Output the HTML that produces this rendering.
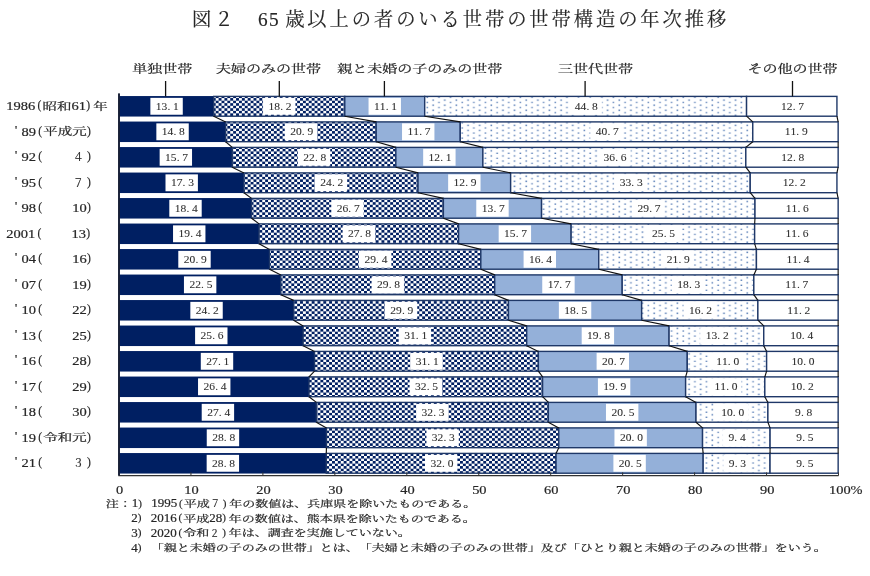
<!DOCTYPE html>
<html lang="ja"><head><meta charset="utf-8"><title>図２　65 歳以上の者のいる世帯の世帯構造の年次推移</title>
<style>
html,body{margin:0;padding:0;background:#fff}
body{width:870px;height:576px;overflow:hidden}
svg{display:block}
text{font-family:"Liberation Serif","Noto Serif CJK JP","Noto Serif CJK SC",serif;fill:#262626;font-weight:400;white-space:pre;text-spacing-trim:space-all;font-kerning:none;stroke:#262626;stroke-width:0.22px}
.n{stroke-width:0.2px}
.p{stroke-width:0.15px}
.v tspan{stroke-width:0.08px;fill:#303030}
.t{text-anchor:middle;stroke-width:0.15px}
.o{stroke:#1f3868;stroke-width:1.4}
.c{stroke:#111;stroke-width:1.15;fill:none}
.l{stroke:#111;stroke-width:1.3;fill:none}
.b{fill:#fff}
</style></head><body>
<svg width="870" height="576" viewBox="0 0 870 576">
<defs>
<pattern id="ck" patternUnits="userSpaceOnUse" width="5.8165" height="5.076" patternTransform="translate(0.486 1.687)"><rect width="5.8165" height="5.076" fill="#001f62"/><rect x="0" y="0" width="2.908" height="2.538" fill="#fff"/><rect x="2.908" y="2.538" width="2.909" height="2.538" fill="#fff"/></pattern>
<pattern id="dt" patternUnits="userSpaceOnUse" width="11.633" height="5.076" patternTransform="translate(0.486 1.687)"><rect width="11.633" height="5.076" fill="#fff"/><rect x="1.454" y="1.269" width="1.6" height="1.4" fill="#5b80b8"/><rect x="7.27" y="3.807" width="1.6" height="1.4" fill="#5b80b8"/></pattern>
</defs>
<rect width="870" height="576" fill="#fff"/>
<text class="t" x="201.7 223.9 246.1 262.75 273.85 281.55 294.8 317 339.2 361.4 383.6 405.8 428 450.2 472.4 494.6 516.8 539 561.2 583.4 605.6 627.8 650 672.2 694.4 716.6" y="26.4" font-size="19.3">図２　65 歳以上の者のいる世帯の世帯構造の年次推移</text>
<rect x="119.45" y="96.05" width="94.64" height="20.5" fill="#001f62"/>
<rect class="o" x="213.69" y="96.4" width="131.1" height="19.8" fill="url(#ck)"/>
<rect class="o" x="344.79" y="96.4" width="79.9" height="19.8" fill="#94b0d9"/>
<rect class="o" x="424.69" y="96.4" width="321.87" height="19.8" fill="url(#dt)"/>
<rect class="o" x="746.56" y="96.4" width="90.37" height="19.8" fill="#fff"/>
<rect x="119.45" y="121.55" width="106.6" height="20.5" fill="#001f62"/>
<rect class="o" x="225.65" y="121.9" width="150.56" height="19.8" fill="url(#ck)"/>
<rect class="o" x="376.2" y="121.9" width="84.05" height="19.8" fill="#94b0d9"/>
<rect class="o" x="460.26" y="121.9" width="292.51" height="19.8" fill="url(#dt)"/>
<rect class="o" x="752.77" y="121.9" width="85.38" height="19.8" fill="#fff"/>
<rect x="119.45" y="147.05" width="113.18" height="20.5" fill="#001f62"/>
<rect class="o" x="232.23" y="147.4" width="163.64" height="19.8" fill="url(#ck)"/>
<rect class="o" x="395.86" y="147.4" width="87.02" height="19.8" fill="#94b0d9"/>
<rect class="o" x="482.88" y="147.4" width="262.93" height="19.8" fill="url(#dt)"/>
<rect class="o" x="745.81" y="147.4" width="92.34" height="19.8" fill="#fff"/>
<rect x="119.45" y="172.55" width="124.89" height="20.5" fill="#001f62"/>
<rect class="o" x="243.94" y="172.9" width="174.08" height="19.8" fill="url(#ck)"/>
<rect class="o" x="418.03" y="172.9" width="92.62" height="19.8" fill="#94b0d9"/>
<rect class="o" x="510.64" y="172.9" width="239.59" height="19.8" fill="url(#dt)"/>
<rect class="o" x="750.23" y="172.9" width="86.7" height="19.8" fill="#fff"/>
<rect x="119.45" y="198.05" width="132.49" height="20.5" fill="#001f62"/>
<rect class="o" x="251.54" y="198.4" width="191.83" height="19.8" fill="url(#ck)"/>
<rect class="o" x="443.38" y="198.4" width="98.2" height="19.8" fill="#94b0d9"/>
<rect class="o" x="541.57" y="198.4" width="213.41" height="19.8" fill="url(#dt)"/>
<rect class="o" x="754.99" y="198.4" width="83.16" height="19.8" fill="#fff"/>
<rect x="119.45" y="223.55" width="139.99" height="20.5" fill="#001f62"/>
<rect class="o" x="259.04" y="223.9" width="199.57" height="19.8" fill="url(#ck)"/>
<rect class="o" x="458.6" y="223.9" width="112.54" height="19.8" fill="#94b0d9"/>
<rect class="o" x="571.14" y="223.9" width="183.5" height="19.8" fill="url(#dt)"/>
<rect class="o" x="754.64" y="223.9" width="83.51" height="19.8" fill="#fff"/>
<rect x="119.45" y="249.05" width="150.47" height="20.5" fill="#001f62"/>
<rect class="o" x="269.52" y="249.4" width="211.31" height="19.8" fill="url(#ck)"/>
<rect class="o" x="480.83" y="249.4" width="117.93" height="19.8" fill="#94b0d9"/>
<rect class="o" x="598.76" y="249.4" width="157.68" height="19.8" fill="url(#dt)"/>
<rect class="o" x="756.43" y="249.4" width="81.72" height="19.8" fill="#fff"/>
<rect x="119.45" y="274.55" width="161.79" height="20.5" fill="#001f62"/>
<rect class="o" x="280.84" y="274.9" width="213.85" height="19.8" fill="url(#ck)"/>
<rect class="o" x="494.69" y="274.9" width="127.52" height="19.8" fill="#94b0d9"/>
<rect class="o" x="622.21" y="274.9" width="131.62" height="19.8" fill="url(#dt)"/>
<rect class="o" x="753.83" y="274.9" width="84.32" height="19.8" fill="#fff"/>
<rect x="119.45" y="300.05" width="174.57" height="20.5" fill="#001f62"/>
<rect class="o" x="293.62" y="300.4" width="214.85" height="19.8" fill="url(#ck)"/>
<rect class="o" x="508.48" y="300.4" width="133.18" height="19.8" fill="#94b0d9"/>
<rect class="o" x="641.66" y="300.4" width="116.21" height="19.8" fill="url(#dt)"/>
<rect class="o" x="757.87" y="300.4" width="80.28" height="19.8" fill="#fff"/>
<rect x="119.45" y="325.55" width="184.08" height="20.5" fill="#001f62"/>
<rect class="o" x="303.13" y="325.9" width="223.56" height="19.8" fill="url(#ck)"/>
<rect class="o" x="526.69" y="325.9" width="142.39" height="19.8" fill="#94b0d9"/>
<rect class="o" x="669.09" y="325.9" width="94.66" height="19.8" fill="url(#dt)"/>
<rect class="o" x="763.75" y="325.9" width="74.4" height="19.8" fill="#fff"/>
<rect x="119.45" y="351.05" width="195.47" height="20.5" fill="#001f62"/>
<rect class="o" x="314.52" y="351.4" width="223.83" height="19.8" fill="url(#ck)"/>
<rect class="o" x="538.36" y="351.4" width="148.91" height="19.8" fill="#94b0d9"/>
<rect class="o" x="687.27" y="351.4" width="79.35" height="19.8" fill="url(#dt)"/>
<rect class="o" x="766.62" y="351.4" width="71.53" height="19.8" fill="#fff"/>
<rect x="119.45" y="376.55" width="189.96" height="20.5" fill="#001f62"/>
<rect class="o" x="309.01" y="376.9" width="233.58" height="19.8" fill="url(#ck)"/>
<rect class="o" x="542.6" y="376.9" width="143.03" height="19.8" fill="#94b0d9"/>
<rect class="o" x="685.63" y="376.9" width="79.19" height="19.8" fill="url(#dt)"/>
<rect class="o" x="764.82" y="376.9" width="73.33" height="19.8" fill="#fff"/>
<rect x="119.45" y="402.05" width="197.32" height="20.5" fill="#001f62"/>
<rect class="o" x="316.37" y="402.4" width="231.95" height="19.8" fill="url(#ck)"/>
<rect class="o" x="548.33" y="402.4" width="147.68" height="19.8" fill="#94b0d9"/>
<rect class="o" x="696.01" y="402.4" width="71.88" height="19.8" fill="url(#dt)"/>
<rect class="o" x="767.89" y="402.4" width="70.26" height="19.8" fill="#fff"/>
<rect x="119.45" y="427.55" width="207.41" height="20.5" fill="#001f62"/>
<rect class="o" x="326.46" y="427.9" width="232.32" height="19.8" fill="url(#ck)"/>
<rect class="o" x="558.78" y="427.9" width="143.77" height="19.8" fill="#94b0d9"/>
<rect class="o" x="702.55" y="427.9" width="67.53" height="19.8" fill="url(#dt)"/>
<rect class="o" x="770.08" y="427.9" width="68.07" height="19.8" fill="#fff"/>
<rect x="119.45" y="453.05" width="207.22" height="20.5" fill="#001f62"/>
<rect class="o" x="326.27" y="453.4" width="229.76" height="19.8" fill="url(#ck)"/>
<rect class="o" x="556.03" y="453.4" width="147.14" height="19.8" fill="#94b0d9"/>
<rect class="o" x="703.18" y="453.4" width="66.86" height="19.8" fill="url(#dt)"/>
<rect class="o" x="770.04" y="453.4" width="68.11" height="19.8" fill="#fff"/>
<line class="c" x1="213.69" y1="116.2" x2="225.65" y2="121.9"/>
<line class="c" x1="344.79" y1="116.2" x2="376.2" y2="121.9"/>
<line class="c" x1="424.69" y1="116.2" x2="460.26" y2="121.9"/>
<line class="c" x1="746.56" y1="116.2" x2="752.77" y2="121.9"/>
<line class="c" x1="836.93" y1="116.2" x2="838.15" y2="121.9"/>
<line class="c" x1="225.65" y1="141.7" x2="232.23" y2="147.4"/>
<line class="c" x1="376.2" y1="141.7" x2="395.86" y2="147.4"/>
<line class="c" x1="460.26" y1="141.7" x2="482.88" y2="147.4"/>
<line class="c" x1="752.77" y1="141.7" x2="745.81" y2="147.4"/>
<line class="c" x1="838.15" y1="141.7" x2="838.15" y2="147.4"/>
<line class="c" x1="232.23" y1="167.2" x2="243.94" y2="172.9"/>
<line class="c" x1="395.86" y1="167.2" x2="418.03" y2="172.9"/>
<line class="c" x1="482.88" y1="167.2" x2="510.64" y2="172.9"/>
<line class="c" x1="745.81" y1="167.2" x2="750.23" y2="172.9"/>
<line class="c" x1="838.15" y1="167.2" x2="836.93" y2="172.9"/>
<line class="c" x1="243.94" y1="192.7" x2="251.54" y2="198.4"/>
<line class="c" x1="418.03" y1="192.7" x2="443.38" y2="198.4"/>
<line class="c" x1="510.64" y1="192.7" x2="541.57" y2="198.4"/>
<line class="c" x1="750.23" y1="192.7" x2="754.99" y2="198.4"/>
<line class="c" x1="836.93" y1="192.7" x2="838.15" y2="198.4"/>
<line class="c" x1="251.54" y1="218.2" x2="259.04" y2="223.9"/>
<line class="c" x1="443.38" y1="218.2" x2="458.6" y2="223.9"/>
<line class="c" x1="541.57" y1="218.2" x2="571.14" y2="223.9"/>
<line class="c" x1="754.99" y1="218.2" x2="754.64" y2="223.9"/>
<line class="c" x1="838.15" y1="218.2" x2="838.15" y2="223.9"/>
<line class="c" x1="259.04" y1="243.7" x2="269.52" y2="249.4"/>
<line class="c" x1="458.6" y1="243.7" x2="480.83" y2="249.4"/>
<line class="c" x1="571.14" y1="243.7" x2="598.76" y2="249.4"/>
<line class="c" x1="754.64" y1="243.7" x2="756.43" y2="249.4"/>
<line class="c" x1="838.15" y1="243.7" x2="838.15" y2="249.4"/>
<line class="c" x1="269.52" y1="269.2" x2="280.84" y2="274.9"/>
<line class="c" x1="480.83" y1="269.2" x2="494.69" y2="274.9"/>
<line class="c" x1="598.76" y1="269.2" x2="622.21" y2="274.9"/>
<line class="c" x1="756.43" y1="269.2" x2="753.83" y2="274.9"/>
<line class="c" x1="838.15" y1="269.2" x2="838.15" y2="274.9"/>
<line class="c" x1="280.84" y1="294.7" x2="293.62" y2="300.4"/>
<line class="c" x1="494.69" y1="294.7" x2="508.48" y2="300.4"/>
<line class="c" x1="622.21" y1="294.7" x2="641.66" y2="300.4"/>
<line class="c" x1="753.83" y1="294.7" x2="757.87" y2="300.4"/>
<line class="c" x1="838.15" y1="294.7" x2="838.15" y2="300.4"/>
<line class="c" x1="293.62" y1="320.2" x2="303.13" y2="325.9"/>
<line class="c" x1="508.48" y1="320.2" x2="526.69" y2="325.9"/>
<line class="c" x1="641.66" y1="320.2" x2="669.09" y2="325.9"/>
<line class="c" x1="757.87" y1="320.2" x2="763.75" y2="325.9"/>
<line class="c" x1="838.15" y1="320.2" x2="838.15" y2="325.9"/>
<line class="c" x1="303.13" y1="345.7" x2="314.52" y2="351.4"/>
<line class="c" x1="526.69" y1="345.7" x2="538.36" y2="351.4"/>
<line class="c" x1="669.09" y1="345.7" x2="687.27" y2="351.4"/>
<line class="c" x1="763.75" y1="345.7" x2="766.62" y2="351.4"/>
<line class="c" x1="838.15" y1="345.7" x2="838.15" y2="351.4"/>
<line class="c" x1="314.52" y1="371.2" x2="309.01" y2="376.9"/>
<line class="c" x1="538.36" y1="371.2" x2="542.6" y2="376.9"/>
<line class="c" x1="687.27" y1="371.2" x2="685.63" y2="376.9"/>
<line class="c" x1="766.62" y1="371.2" x2="764.82" y2="376.9"/>
<line class="c" x1="838.15" y1="371.2" x2="838.15" y2="376.9"/>
<line class="c" x1="309.01" y1="396.7" x2="316.37" y2="402.4"/>
<line class="c" x1="542.6" y1="396.7" x2="548.33" y2="402.4"/>
<line class="c" x1="685.63" y1="396.7" x2="696.01" y2="402.4"/>
<line class="c" x1="764.82" y1="396.7" x2="767.89" y2="402.4"/>
<line class="c" x1="838.15" y1="396.7" x2="838.15" y2="402.4"/>
<line class="c" x1="316.37" y1="422.2" x2="326.46" y2="427.9"/>
<line class="c" x1="548.33" y1="422.2" x2="558.78" y2="427.9"/>
<line class="c" x1="696.01" y1="422.2" x2="702.55" y2="427.9"/>
<line class="c" x1="767.89" y1="422.2" x2="770.08" y2="427.9"/>
<line class="c" x1="838.15" y1="422.2" x2="838.15" y2="427.9"/>
<line class="c" x1="326.46" y1="447.7" x2="326.27" y2="453.4"/>
<line class="c" x1="558.78" y1="447.7" x2="556.03" y2="453.4"/>
<line class="c" x1="702.55" y1="447.7" x2="703.18" y2="453.4"/>
<line class="c" x1="770.08" y1="447.7" x2="770.04" y2="453.4"/>
<line class="c" x1="838.15" y1="447.7" x2="838.15" y2="453.4"/>
<rect class="b" x="150.37" y="97.85" width="32.4" height="16.9"/>
<text class="v" font-size="9"><tspan class="n" x="155.82" y="109.99" textLength="11.5" lengthAdjust="spacingAndGlyphs" font-size="10.4">13</tspan><tspan class="p" x="167.49" y="109.99" textLength="2.88" lengthAdjust="spacingAndGlyphs" font-size="10.4">.</tspan><tspan class="n" x="173.07" y="109.99" textLength="5.75" lengthAdjust="spacingAndGlyphs" font-size="10.4">1</tspan></text>
<rect class="b" x="263.04" y="97.85" width="32.4" height="16.9"/>
<text class="v" font-size="9"><tspan class="n" x="268.49" y="109.99" textLength="11.5" lengthAdjust="spacingAndGlyphs" font-size="10.4">18</tspan><tspan class="p" x="280.17" y="109.99" textLength="2.88" lengthAdjust="spacingAndGlyphs" font-size="10.4">.</tspan><tspan class="n" x="285.74" y="109.99" textLength="5.75" lengthAdjust="spacingAndGlyphs" font-size="10.4">2</tspan></text>
<rect class="b" x="368.54" y="97.85" width="32.4" height="16.9"/>
<text class="v" font-size="9"><tspan class="n" x="373.99" y="109.99" textLength="11.5" lengthAdjust="spacingAndGlyphs" font-size="10.4">11</tspan><tspan class="p" x="385.66" y="109.99" textLength="2.88" lengthAdjust="spacingAndGlyphs" font-size="10.4">.</tspan><tspan class="n" x="391.24" y="109.99" textLength="5.75" lengthAdjust="spacingAndGlyphs" font-size="10.4">1</tspan></text>
<rect class="b" x="569.42" y="97.85" width="32.4" height="16.9"/>
<text class="v" font-size="9"><tspan class="n" x="574.87" y="109.99" textLength="11.5" lengthAdjust="spacingAndGlyphs" font-size="10.4">44</tspan><tspan class="p" x="586.55" y="109.99" textLength="2.88" lengthAdjust="spacingAndGlyphs" font-size="10.4">.</tspan><tspan class="n" x="592.12" y="109.99" textLength="5.75" lengthAdjust="spacingAndGlyphs" font-size="10.4">8</tspan></text>
<rect class="b" x="775.54" y="97.85" width="32.4" height="16.9"/>
<text class="v" font-size="9"><tspan class="n" x="780.99" y="109.99" textLength="11.5" lengthAdjust="spacingAndGlyphs" font-size="10.4">12</tspan><tspan class="p" x="792.66" y="109.99" textLength="2.88" lengthAdjust="spacingAndGlyphs" font-size="10.4">.</tspan><tspan class="n" x="798.24" y="109.99" textLength="5.75" lengthAdjust="spacingAndGlyphs" font-size="10.4">7</tspan></text>
<rect class="b" x="156.35" y="123.35" width="32.4" height="16.9"/>
<text class="v" font-size="9"><tspan class="n" x="161.8" y="135.49" textLength="11.5" lengthAdjust="spacingAndGlyphs" font-size="10.4">14</tspan><tspan class="p" x="173.47" y="135.49" textLength="2.88" lengthAdjust="spacingAndGlyphs" font-size="10.4">.</tspan><tspan class="n" x="179.05" y="135.49" textLength="5.75" lengthAdjust="spacingAndGlyphs" font-size="10.4">8</tspan></text>
<rect class="b" x="284.73" y="123.35" width="32.4" height="16.9"/>
<text class="v" font-size="9"><tspan class="n" x="290.18" y="135.49" textLength="11.5" lengthAdjust="spacingAndGlyphs" font-size="10.4">20</tspan><tspan class="p" x="301.85" y="135.49" textLength="2.88" lengthAdjust="spacingAndGlyphs" font-size="10.4">.</tspan><tspan class="n" x="307.43" y="135.49" textLength="5.75" lengthAdjust="spacingAndGlyphs" font-size="10.4">9</tspan></text>
<rect class="b" x="402.03" y="123.35" width="32.4" height="16.9"/>
<text class="v" font-size="9"><tspan class="n" x="407.48" y="135.49" textLength="11.5" lengthAdjust="spacingAndGlyphs" font-size="10.4">11</tspan><tspan class="p" x="419.15" y="135.49" textLength="2.88" lengthAdjust="spacingAndGlyphs" font-size="10.4">.</tspan><tspan class="n" x="424.73" y="135.49" textLength="5.75" lengthAdjust="spacingAndGlyphs" font-size="10.4">7</tspan></text>
<rect class="b" x="590.31" y="123.35" width="32.4" height="16.9"/>
<text class="v" font-size="9"><tspan class="n" x="595.76" y="135.49" textLength="11.5" lengthAdjust="spacingAndGlyphs" font-size="10.4">40</tspan><tspan class="p" x="607.43" y="135.49" textLength="2.88" lengthAdjust="spacingAndGlyphs" font-size="10.4">.</tspan><tspan class="n" x="613.01" y="135.49" textLength="5.75" lengthAdjust="spacingAndGlyphs" font-size="10.4">7</tspan></text>
<rect class="b" x="779.26" y="123.35" width="32.4" height="16.9"/>
<text class="v" font-size="9"><tspan class="n" x="784.71" y="135.49" textLength="11.5" lengthAdjust="spacingAndGlyphs" font-size="10.4">11</tspan><tspan class="p" x="796.38" y="135.49" textLength="2.88" lengthAdjust="spacingAndGlyphs" font-size="10.4">.</tspan><tspan class="n" x="801.96" y="135.49" textLength="5.75" lengthAdjust="spacingAndGlyphs" font-size="10.4">9</tspan></text>
<rect class="b" x="159.64" y="148.85" width="32.4" height="16.9"/>
<text class="v" font-size="9"><tspan class="n" x="165.09" y="160.99" textLength="11.5" lengthAdjust="spacingAndGlyphs" font-size="10.4">15</tspan><tspan class="p" x="176.76" y="160.99" textLength="2.88" lengthAdjust="spacingAndGlyphs" font-size="10.4">.</tspan><tspan class="n" x="182.34" y="160.99" textLength="5.75" lengthAdjust="spacingAndGlyphs" font-size="10.4">7</tspan></text>
<rect class="b" x="297.85" y="148.85" width="32.4" height="16.9"/>
<text class="v" font-size="9"><tspan class="n" x="303.3" y="160.99" textLength="11.5" lengthAdjust="spacingAndGlyphs" font-size="10.4">22</tspan><tspan class="p" x="314.97" y="160.99" textLength="2.88" lengthAdjust="spacingAndGlyphs" font-size="10.4">.</tspan><tspan class="n" x="320.55" y="160.99" textLength="5.75" lengthAdjust="spacingAndGlyphs" font-size="10.4">8</tspan></text>
<rect class="b" x="423.17" y="148.85" width="32.4" height="16.9"/>
<text class="v" font-size="9"><tspan class="n" x="428.62" y="160.99" textLength="11.5" lengthAdjust="spacingAndGlyphs" font-size="10.4">12</tspan><tspan class="p" x="440.3" y="160.99" textLength="2.88" lengthAdjust="spacingAndGlyphs" font-size="10.4">.</tspan><tspan class="n" x="445.87" y="160.99" textLength="5.75" lengthAdjust="spacingAndGlyphs" font-size="10.4">1</tspan></text>
<rect class="b" x="598.15" y="148.85" width="32.4" height="16.9"/>
<text class="v" font-size="9"><tspan class="n" x="603.6" y="160.99" textLength="11.5" lengthAdjust="spacingAndGlyphs" font-size="10.4">36</tspan><tspan class="p" x="615.27" y="160.99" textLength="2.88" lengthAdjust="spacingAndGlyphs" font-size="10.4">.</tspan><tspan class="n" x="620.85" y="160.99" textLength="5.75" lengthAdjust="spacingAndGlyphs" font-size="10.4">6</tspan></text>
<rect class="b" x="775.78" y="148.85" width="32.4" height="16.9"/>
<text class="v" font-size="9"><tspan class="n" x="781.23" y="160.99" textLength="11.5" lengthAdjust="spacingAndGlyphs" font-size="10.4">12</tspan><tspan class="p" x="792.9" y="160.99" textLength="2.88" lengthAdjust="spacingAndGlyphs" font-size="10.4">.</tspan><tspan class="n" x="798.48" y="160.99" textLength="5.75" lengthAdjust="spacingAndGlyphs" font-size="10.4">8</tspan></text>
<rect class="b" x="165.5" y="174.35" width="32.4" height="16.9"/>
<text class="v" font-size="9"><tspan class="n" x="170.95" y="186.49" textLength="11.5" lengthAdjust="spacingAndGlyphs" font-size="10.4">17</tspan><tspan class="p" x="182.62" y="186.49" textLength="2.88" lengthAdjust="spacingAndGlyphs" font-size="10.4">.</tspan><tspan class="n" x="188.2" y="186.49" textLength="5.75" lengthAdjust="spacingAndGlyphs" font-size="10.4">3</tspan></text>
<rect class="b" x="314.78" y="174.35" width="32.4" height="16.9"/>
<text class="v" font-size="9"><tspan class="n" x="320.23" y="186.49" textLength="11.5" lengthAdjust="spacingAndGlyphs" font-size="10.4">24</tspan><tspan class="p" x="331.91" y="186.49" textLength="2.88" lengthAdjust="spacingAndGlyphs" font-size="10.4">.</tspan><tspan class="n" x="337.48" y="186.49" textLength="5.75" lengthAdjust="spacingAndGlyphs" font-size="10.4">2</tspan></text>
<rect class="b" x="448.14" y="174.35" width="32.4" height="16.9"/>
<text class="v" font-size="9"><tspan class="n" x="453.59" y="186.49" textLength="11.5" lengthAdjust="spacingAndGlyphs" font-size="10.4">12</tspan><tspan class="p" x="465.26" y="186.49" textLength="2.88" lengthAdjust="spacingAndGlyphs" font-size="10.4">.</tspan><tspan class="n" x="470.84" y="186.49" textLength="5.75" lengthAdjust="spacingAndGlyphs" font-size="10.4">9</tspan></text>
<rect class="b" x="614.24" y="174.35" width="32.4" height="16.9"/>
<text class="v" font-size="9"><tspan class="n" x="619.69" y="186.49" textLength="11.5" lengthAdjust="spacingAndGlyphs" font-size="10.4">33</tspan><tspan class="p" x="631.36" y="186.49" textLength="2.88" lengthAdjust="spacingAndGlyphs" font-size="10.4">.</tspan><tspan class="n" x="636.94" y="186.49" textLength="5.75" lengthAdjust="spacingAndGlyphs" font-size="10.4">3</tspan></text>
<rect class="b" x="777.38" y="174.35" width="32.4" height="16.9"/>
<text class="v" font-size="9"><tspan class="n" x="782.83" y="186.49" textLength="11.5" lengthAdjust="spacingAndGlyphs" font-size="10.4">12</tspan><tspan class="p" x="794.5" y="186.49" textLength="2.88" lengthAdjust="spacingAndGlyphs" font-size="10.4">.</tspan><tspan class="n" x="800.08" y="186.49" textLength="5.75" lengthAdjust="spacingAndGlyphs" font-size="10.4">2</tspan></text>
<rect class="b" x="169.3" y="199.85" width="32.4" height="16.9"/>
<text class="v" font-size="9"><tspan class="n" x="174.75" y="211.99" textLength="11.5" lengthAdjust="spacingAndGlyphs" font-size="10.4">18</tspan><tspan class="p" x="186.42" y="211.99" textLength="2.88" lengthAdjust="spacingAndGlyphs" font-size="10.4">.</tspan><tspan class="n" x="192" y="211.99" textLength="5.75" lengthAdjust="spacingAndGlyphs" font-size="10.4">4</tspan></text>
<rect class="b" x="331.26" y="199.85" width="32.4" height="16.9"/>
<text class="v" font-size="9"><tspan class="n" x="336.71" y="211.99" textLength="11.5" lengthAdjust="spacingAndGlyphs" font-size="10.4">26</tspan><tspan class="p" x="348.38" y="211.99" textLength="2.88" lengthAdjust="spacingAndGlyphs" font-size="10.4">.</tspan><tspan class="n" x="353.96" y="211.99" textLength="5.75" lengthAdjust="spacingAndGlyphs" font-size="10.4">7</tspan></text>
<rect class="b" x="476.27" y="199.85" width="32.4" height="16.9"/>
<text class="v" font-size="9"><tspan class="n" x="481.72" y="211.99" textLength="11.5" lengthAdjust="spacingAndGlyphs" font-size="10.4">13</tspan><tspan class="p" x="493.4" y="211.99" textLength="2.88" lengthAdjust="spacingAndGlyphs" font-size="10.4">.</tspan><tspan class="n" x="498.97" y="211.99" textLength="5.75" lengthAdjust="spacingAndGlyphs" font-size="10.4">7</tspan></text>
<rect class="b" x="632.08" y="199.85" width="32.4" height="16.9"/>
<text class="v" font-size="9"><tspan class="n" x="637.53" y="211.99" textLength="11.5" lengthAdjust="spacingAndGlyphs" font-size="10.4">29</tspan><tspan class="p" x="649.2" y="211.99" textLength="2.88" lengthAdjust="spacingAndGlyphs" font-size="10.4">.</tspan><tspan class="n" x="654.78" y="211.99" textLength="5.75" lengthAdjust="spacingAndGlyphs" font-size="10.4">7</tspan></text>
<rect class="b" x="780.37" y="199.85" width="32.4" height="16.9"/>
<text class="v" font-size="9"><tspan class="n" x="785.82" y="211.99" textLength="11.5" lengthAdjust="spacingAndGlyphs" font-size="10.4">11</tspan><tspan class="p" x="797.49" y="211.99" textLength="2.88" lengthAdjust="spacingAndGlyphs" font-size="10.4">.</tspan><tspan class="n" x="803.07" y="211.99" textLength="5.75" lengthAdjust="spacingAndGlyphs" font-size="10.4">6</tspan></text>
<rect class="b" x="173.04" y="225.35" width="32.4" height="16.9"/>
<text class="v" font-size="9"><tspan class="n" x="178.49" y="237.49" textLength="11.5" lengthAdjust="spacingAndGlyphs" font-size="10.4">19</tspan><tspan class="p" x="190.17" y="237.49" textLength="2.88" lengthAdjust="spacingAndGlyphs" font-size="10.4">.</tspan><tspan class="n" x="195.74" y="237.49" textLength="5.75" lengthAdjust="spacingAndGlyphs" font-size="10.4">4</tspan></text>
<rect class="b" x="342.62" y="225.35" width="32.4" height="16.9"/>
<text class="v" font-size="9"><tspan class="n" x="348.07" y="237.49" textLength="11.5" lengthAdjust="spacingAndGlyphs" font-size="10.4">27</tspan><tspan class="p" x="359.74" y="237.49" textLength="2.88" lengthAdjust="spacingAndGlyphs" font-size="10.4">.</tspan><tspan class="n" x="365.32" y="237.49" textLength="5.75" lengthAdjust="spacingAndGlyphs" font-size="10.4">8</tspan></text>
<rect class="b" x="498.67" y="225.35" width="32.4" height="16.9"/>
<text class="v" font-size="9"><tspan class="n" x="504.12" y="237.49" textLength="11.5" lengthAdjust="spacingAndGlyphs" font-size="10.4">15</tspan><tspan class="p" x="515.79" y="237.49" textLength="2.88" lengthAdjust="spacingAndGlyphs" font-size="10.4">.</tspan><tspan class="n" x="521.37" y="237.49" textLength="5.75" lengthAdjust="spacingAndGlyphs" font-size="10.4">7</tspan></text>
<rect class="b" x="646.69" y="225.35" width="32.4" height="16.9"/>
<text class="v" font-size="9"><tspan class="n" x="652.14" y="237.49" textLength="11.5" lengthAdjust="spacingAndGlyphs" font-size="10.4">25</tspan><tspan class="p" x="663.81" y="237.49" textLength="2.88" lengthAdjust="spacingAndGlyphs" font-size="10.4">.</tspan><tspan class="n" x="669.39" y="237.49" textLength="5.75" lengthAdjust="spacingAndGlyphs" font-size="10.4">5</tspan></text>
<rect class="b" x="780.19" y="225.35" width="32.4" height="16.9"/>
<text class="v" font-size="9"><tspan class="n" x="785.64" y="237.49" textLength="11.5" lengthAdjust="spacingAndGlyphs" font-size="10.4">11</tspan><tspan class="p" x="797.32" y="237.49" textLength="2.88" lengthAdjust="spacingAndGlyphs" font-size="10.4">.</tspan><tspan class="n" x="802.89" y="237.49" textLength="5.75" lengthAdjust="spacingAndGlyphs" font-size="10.4">6</tspan></text>
<rect class="b" x="178.29" y="250.85" width="32.4" height="16.9"/>
<text class="v" font-size="9"><tspan class="n" x="183.74" y="262.99" textLength="11.5" lengthAdjust="spacingAndGlyphs" font-size="10.4">20</tspan><tspan class="p" x="195.41" y="262.99" textLength="2.88" lengthAdjust="spacingAndGlyphs" font-size="10.4">.</tspan><tspan class="n" x="200.99" y="262.99" textLength="5.75" lengthAdjust="spacingAndGlyphs" font-size="10.4">9</tspan></text>
<rect class="b" x="358.98" y="250.85" width="32.4" height="16.9"/>
<text class="v" font-size="9"><tspan class="n" x="364.43" y="262.99" textLength="11.5" lengthAdjust="spacingAndGlyphs" font-size="10.4">29</tspan><tspan class="p" x="376.1" y="262.99" textLength="2.88" lengthAdjust="spacingAndGlyphs" font-size="10.4">.</tspan><tspan class="n" x="381.68" y="262.99" textLength="5.75" lengthAdjust="spacingAndGlyphs" font-size="10.4">4</tspan></text>
<rect class="b" x="523.59" y="250.85" width="32.4" height="16.9"/>
<text class="v" font-size="9"><tspan class="n" x="529.04" y="262.99" textLength="11.5" lengthAdjust="spacingAndGlyphs" font-size="10.4">16</tspan><tspan class="p" x="540.72" y="262.99" textLength="2.88" lengthAdjust="spacingAndGlyphs" font-size="10.4">.</tspan><tspan class="n" x="546.29" y="262.99" textLength="5.75" lengthAdjust="spacingAndGlyphs" font-size="10.4">4</tspan></text>
<rect class="b" x="661.4" y="250.85" width="32.4" height="16.9"/>
<text class="v" font-size="9"><tspan class="n" x="666.85" y="262.99" textLength="11.5" lengthAdjust="spacingAndGlyphs" font-size="10.4">21</tspan><tspan class="p" x="678.52" y="262.99" textLength="2.88" lengthAdjust="spacingAndGlyphs" font-size="10.4">.</tspan><tspan class="n" x="684.1" y="262.99" textLength="5.75" lengthAdjust="spacingAndGlyphs" font-size="10.4">9</tspan></text>
<rect class="b" x="781.09" y="250.85" width="32.4" height="16.9"/>
<text class="v" font-size="9"><tspan class="n" x="786.54" y="262.99" textLength="11.5" lengthAdjust="spacingAndGlyphs" font-size="10.4">11</tspan><tspan class="p" x="798.21" y="262.99" textLength="2.88" lengthAdjust="spacingAndGlyphs" font-size="10.4">.</tspan><tspan class="n" x="803.79" y="262.99" textLength="5.75" lengthAdjust="spacingAndGlyphs" font-size="10.4">4</tspan></text>
<rect class="b" x="183.95" y="276.35" width="32.4" height="16.9"/>
<text class="v" font-size="9"><tspan class="n" x="189.4" y="288.49" textLength="11.5" lengthAdjust="spacingAndGlyphs" font-size="10.4">22</tspan><tspan class="p" x="201.07" y="288.49" textLength="2.88" lengthAdjust="spacingAndGlyphs" font-size="10.4">.</tspan><tspan class="n" x="206.65" y="288.49" textLength="5.75" lengthAdjust="spacingAndGlyphs" font-size="10.4">5</tspan></text>
<rect class="b" x="371.57" y="276.35" width="32.4" height="16.9"/>
<text class="v" font-size="9"><tspan class="n" x="377.02" y="288.49" textLength="11.5" lengthAdjust="spacingAndGlyphs" font-size="10.4">29</tspan><tspan class="p" x="388.69" y="288.49" textLength="2.88" lengthAdjust="spacingAndGlyphs" font-size="10.4">.</tspan><tspan class="n" x="394.27" y="288.49" textLength="5.75" lengthAdjust="spacingAndGlyphs" font-size="10.4">8</tspan></text>
<rect class="b" x="542.25" y="276.35" width="32.4" height="16.9"/>
<text class="v" font-size="9"><tspan class="n" x="547.7" y="288.49" textLength="11.5" lengthAdjust="spacingAndGlyphs" font-size="10.4">17</tspan><tspan class="p" x="559.37" y="288.49" textLength="2.88" lengthAdjust="spacingAndGlyphs" font-size="10.4">.</tspan><tspan class="n" x="564.95" y="288.49" textLength="5.75" lengthAdjust="spacingAndGlyphs" font-size="10.4">7</tspan></text>
<rect class="b" x="671.82" y="276.35" width="32.4" height="16.9"/>
<text class="v" font-size="9"><tspan class="n" x="677.27" y="288.49" textLength="11.5" lengthAdjust="spacingAndGlyphs" font-size="10.4">18</tspan><tspan class="p" x="688.95" y="288.49" textLength="2.88" lengthAdjust="spacingAndGlyphs" font-size="10.4">.</tspan><tspan class="n" x="694.52" y="288.49" textLength="5.75" lengthAdjust="spacingAndGlyphs" font-size="10.4">3</tspan></text>
<rect class="b" x="779.79" y="276.35" width="32.4" height="16.9"/>
<text class="v" font-size="9"><tspan class="n" x="785.24" y="288.49" textLength="11.5" lengthAdjust="spacingAndGlyphs" font-size="10.4">11</tspan><tspan class="p" x="796.91" y="288.49" textLength="2.88" lengthAdjust="spacingAndGlyphs" font-size="10.4">.</tspan><tspan class="n" x="802.49" y="288.49" textLength="5.75" lengthAdjust="spacingAndGlyphs" font-size="10.4">7</tspan></text>
<rect class="b" x="190.34" y="301.85" width="32.4" height="16.9"/>
<text class="v" font-size="9"><tspan class="n" x="195.79" y="313.99" textLength="11.5" lengthAdjust="spacingAndGlyphs" font-size="10.4">24</tspan><tspan class="p" x="207.46" y="313.99" textLength="2.88" lengthAdjust="spacingAndGlyphs" font-size="10.4">.</tspan><tspan class="n" x="213.04" y="313.99" textLength="5.75" lengthAdjust="spacingAndGlyphs" font-size="10.4">2</tspan></text>
<rect class="b" x="384.85" y="301.85" width="32.4" height="16.9"/>
<text class="v" font-size="9"><tspan class="n" x="390.3" y="313.99" textLength="11.5" lengthAdjust="spacingAndGlyphs" font-size="10.4">29</tspan><tspan class="p" x="401.97" y="313.99" textLength="2.88" lengthAdjust="spacingAndGlyphs" font-size="10.4">.</tspan><tspan class="n" x="407.55" y="313.99" textLength="5.75" lengthAdjust="spacingAndGlyphs" font-size="10.4">9</tspan></text>
<rect class="b" x="558.87" y="301.85" width="32.4" height="16.9"/>
<text class="v" font-size="9"><tspan class="n" x="564.32" y="313.99" textLength="11.5" lengthAdjust="spacingAndGlyphs" font-size="10.4">18</tspan><tspan class="p" x="575.99" y="313.99" textLength="2.88" lengthAdjust="spacingAndGlyphs" font-size="10.4">.</tspan><tspan class="n" x="581.57" y="313.99" textLength="5.75" lengthAdjust="spacingAndGlyphs" font-size="10.4">5</tspan></text>
<rect class="b" x="683.56" y="301.85" width="32.4" height="16.9"/>
<text class="v" font-size="9"><tspan class="n" x="689.01" y="313.99" textLength="11.5" lengthAdjust="spacingAndGlyphs" font-size="10.4">16</tspan><tspan class="p" x="700.68" y="313.99" textLength="2.88" lengthAdjust="spacingAndGlyphs" font-size="10.4">.</tspan><tspan class="n" x="706.26" y="313.99" textLength="5.75" lengthAdjust="spacingAndGlyphs" font-size="10.4">2</tspan></text>
<rect class="b" x="781.81" y="301.85" width="32.4" height="16.9"/>
<text class="v" font-size="9"><tspan class="n" x="787.26" y="313.99" textLength="11.5" lengthAdjust="spacingAndGlyphs" font-size="10.4">11</tspan><tspan class="p" x="798.93" y="313.99" textLength="2.88" lengthAdjust="spacingAndGlyphs" font-size="10.4">.</tspan><tspan class="n" x="804.51" y="313.99" textLength="5.75" lengthAdjust="spacingAndGlyphs" font-size="10.4">2</tspan></text>
<rect class="b" x="195.09" y="327.35" width="32.4" height="16.9"/>
<text class="v" font-size="9"><tspan class="n" x="200.54" y="339.49" textLength="11.5" lengthAdjust="spacingAndGlyphs" font-size="10.4">25</tspan><tspan class="p" x="212.21" y="339.49" textLength="2.88" lengthAdjust="spacingAndGlyphs" font-size="10.4">.</tspan><tspan class="n" x="217.79" y="339.49" textLength="5.75" lengthAdjust="spacingAndGlyphs" font-size="10.4">6</tspan></text>
<rect class="b" x="398.71" y="327.35" width="32.4" height="16.9"/>
<text class="v" font-size="9"><tspan class="n" x="404.16" y="339.49" textLength="11.5" lengthAdjust="spacingAndGlyphs" font-size="10.4">31</tspan><tspan class="p" x="415.83" y="339.49" textLength="2.88" lengthAdjust="spacingAndGlyphs" font-size="10.4">.</tspan><tspan class="n" x="421.41" y="339.49" textLength="5.75" lengthAdjust="spacingAndGlyphs" font-size="10.4">1</tspan></text>
<rect class="b" x="581.69" y="327.35" width="32.4" height="16.9"/>
<text class="v" font-size="9"><tspan class="n" x="587.14" y="339.49" textLength="11.5" lengthAdjust="spacingAndGlyphs" font-size="10.4">19</tspan><tspan class="p" x="598.81" y="339.49" textLength="2.88" lengthAdjust="spacingAndGlyphs" font-size="10.4">.</tspan><tspan class="n" x="604.39" y="339.49" textLength="5.75" lengthAdjust="spacingAndGlyphs" font-size="10.4">8</tspan></text>
<rect class="b" x="700.22" y="327.35" width="32.4" height="16.9"/>
<text class="v" font-size="9"><tspan class="n" x="705.67" y="339.49" textLength="11.5" lengthAdjust="spacingAndGlyphs" font-size="10.4">13</tspan><tspan class="p" x="717.34" y="339.49" textLength="2.88" lengthAdjust="spacingAndGlyphs" font-size="10.4">.</tspan><tspan class="n" x="722.92" y="339.49" textLength="5.75" lengthAdjust="spacingAndGlyphs" font-size="10.4">2</tspan></text>
<rect class="b" x="784.75" y="327.35" width="32.4" height="16.9"/>
<text class="v" font-size="9"><tspan class="n" x="790.2" y="339.49" textLength="11.5" lengthAdjust="spacingAndGlyphs" font-size="10.4">10</tspan><tspan class="p" x="801.87" y="339.49" textLength="2.88" lengthAdjust="spacingAndGlyphs" font-size="10.4">.</tspan><tspan class="n" x="807.45" y="339.49" textLength="5.75" lengthAdjust="spacingAndGlyphs" font-size="10.4">4</tspan></text>
<rect class="b" x="200.79" y="352.85" width="32.4" height="16.9"/>
<text class="v" font-size="9"><tspan class="n" x="206.24" y="364.99" textLength="11.5" lengthAdjust="spacingAndGlyphs" font-size="10.4">27</tspan><tspan class="p" x="217.91" y="364.99" textLength="2.88" lengthAdjust="spacingAndGlyphs" font-size="10.4">.</tspan><tspan class="n" x="223.49" y="364.99" textLength="5.75" lengthAdjust="spacingAndGlyphs" font-size="10.4">1</tspan></text>
<rect class="b" x="410.24" y="352.85" width="32.4" height="16.9"/>
<text class="v" font-size="9"><tspan class="n" x="415.69" y="364.99" textLength="11.5" lengthAdjust="spacingAndGlyphs" font-size="10.4">31</tspan><tspan class="p" x="427.36" y="364.99" textLength="2.88" lengthAdjust="spacingAndGlyphs" font-size="10.4">.</tspan><tspan class="n" x="432.94" y="364.99" textLength="5.75" lengthAdjust="spacingAndGlyphs" font-size="10.4">1</tspan></text>
<rect class="b" x="596.61" y="352.85" width="32.4" height="16.9"/>
<text class="v" font-size="9"><tspan class="n" x="602.06" y="364.99" textLength="11.5" lengthAdjust="spacingAndGlyphs" font-size="10.4">20</tspan><tspan class="p" x="613.74" y="364.99" textLength="2.88" lengthAdjust="spacingAndGlyphs" font-size="10.4">.</tspan><tspan class="n" x="619.31" y="364.99" textLength="5.75" lengthAdjust="spacingAndGlyphs" font-size="10.4">7</tspan></text>
<rect class="b" x="710.75" y="352.85" width="32.4" height="16.9"/>
<text class="v" font-size="9"><tspan class="n" x="716.2" y="364.99" textLength="11.5" lengthAdjust="spacingAndGlyphs" font-size="10.4">11</tspan><tspan class="p" x="727.87" y="364.99" textLength="2.88" lengthAdjust="spacingAndGlyphs" font-size="10.4">.</tspan><tspan class="n" x="733.45" y="364.99" textLength="5.75" lengthAdjust="spacingAndGlyphs" font-size="10.4">0</tspan></text>
<rect class="b" x="786.19" y="352.85" width="32.4" height="16.9"/>
<text class="v" font-size="9"><tspan class="n" x="791.64" y="364.99" textLength="11.5" lengthAdjust="spacingAndGlyphs" font-size="10.4">10</tspan><tspan class="p" x="803.31" y="364.99" textLength="2.88" lengthAdjust="spacingAndGlyphs" font-size="10.4">.</tspan><tspan class="n" x="808.89" y="364.99" textLength="5.75" lengthAdjust="spacingAndGlyphs" font-size="10.4">0</tspan></text>
<rect class="b" x="198.03" y="378.35" width="32.4" height="16.9"/>
<text class="v" font-size="9"><tspan class="n" x="203.48" y="390.49" textLength="11.5" lengthAdjust="spacingAndGlyphs" font-size="10.4">26</tspan><tspan class="p" x="215.15" y="390.49" textLength="2.88" lengthAdjust="spacingAndGlyphs" font-size="10.4">.</tspan><tspan class="n" x="220.73" y="390.49" textLength="5.75" lengthAdjust="spacingAndGlyphs" font-size="10.4">4</tspan></text>
<rect class="b" x="409.6" y="378.35" width="32.4" height="16.9"/>
<text class="v" font-size="9"><tspan class="n" x="415.05" y="390.49" textLength="11.5" lengthAdjust="spacingAndGlyphs" font-size="10.4">32</tspan><tspan class="p" x="426.73" y="390.49" textLength="2.88" lengthAdjust="spacingAndGlyphs" font-size="10.4">.</tspan><tspan class="n" x="432.3" y="390.49" textLength="5.75" lengthAdjust="spacingAndGlyphs" font-size="10.4">5</tspan></text>
<rect class="b" x="597.91" y="378.35" width="32.4" height="16.9"/>
<text class="v" font-size="9"><tspan class="n" x="603.36" y="390.49" textLength="11.5" lengthAdjust="spacingAndGlyphs" font-size="10.4">19</tspan><tspan class="p" x="615.04" y="390.49" textLength="2.88" lengthAdjust="spacingAndGlyphs" font-size="10.4">.</tspan><tspan class="n" x="620.61" y="390.49" textLength="5.75" lengthAdjust="spacingAndGlyphs" font-size="10.4">9</tspan></text>
<rect class="b" x="709.03" y="378.35" width="32.4" height="16.9"/>
<text class="v" font-size="9"><tspan class="n" x="714.48" y="390.49" textLength="11.5" lengthAdjust="spacingAndGlyphs" font-size="10.4">11</tspan><tspan class="p" x="726.15" y="390.49" textLength="2.88" lengthAdjust="spacingAndGlyphs" font-size="10.4">.</tspan><tspan class="n" x="731.73" y="390.49" textLength="5.75" lengthAdjust="spacingAndGlyphs" font-size="10.4">0</tspan></text>
<rect class="b" x="785.29" y="378.35" width="32.4" height="16.9"/>
<text class="v" font-size="9"><tspan class="n" x="790.74" y="390.49" textLength="11.5" lengthAdjust="spacingAndGlyphs" font-size="10.4">10</tspan><tspan class="p" x="802.41" y="390.49" textLength="2.88" lengthAdjust="spacingAndGlyphs" font-size="10.4">.</tspan><tspan class="n" x="807.99" y="390.49" textLength="5.75" lengthAdjust="spacingAndGlyphs" font-size="10.4">2</tspan></text>
<rect class="b" x="201.71" y="403.85" width="32.4" height="16.9"/>
<text class="v" font-size="9"><tspan class="n" x="207.16" y="415.99" textLength="11.5" lengthAdjust="spacingAndGlyphs" font-size="10.4">27</tspan><tspan class="p" x="218.83" y="415.99" textLength="2.88" lengthAdjust="spacingAndGlyphs" font-size="10.4">.</tspan><tspan class="n" x="224.41" y="415.99" textLength="5.75" lengthAdjust="spacingAndGlyphs" font-size="10.4">4</tspan></text>
<rect class="b" x="416.15" y="403.85" width="32.4" height="16.9"/>
<text class="v" font-size="9"><tspan class="n" x="421.6" y="415.99" textLength="11.5" lengthAdjust="spacingAndGlyphs" font-size="10.4">32</tspan><tspan class="p" x="433.27" y="415.99" textLength="2.88" lengthAdjust="spacingAndGlyphs" font-size="10.4">.</tspan><tspan class="n" x="438.85" y="415.99" textLength="5.75" lengthAdjust="spacingAndGlyphs" font-size="10.4">3</tspan></text>
<rect class="b" x="605.97" y="403.85" width="32.4" height="16.9"/>
<text class="v" font-size="9"><tspan class="n" x="611.42" y="415.99" textLength="11.5" lengthAdjust="spacingAndGlyphs" font-size="10.4">20</tspan><tspan class="p" x="623.09" y="415.99" textLength="2.88" lengthAdjust="spacingAndGlyphs" font-size="10.4">.</tspan><tspan class="n" x="628.67" y="415.99" textLength="5.75" lengthAdjust="spacingAndGlyphs" font-size="10.4">5</tspan></text>
<rect class="b" x="715.75" y="403.85" width="32.4" height="16.9"/>
<text class="v" font-size="9"><tspan class="n" x="721.2" y="415.99" textLength="11.5" lengthAdjust="spacingAndGlyphs" font-size="10.4">10</tspan><tspan class="p" x="732.87" y="415.99" textLength="2.88" lengthAdjust="spacingAndGlyphs" font-size="10.4">.</tspan><tspan class="n" x="738.45" y="415.99" textLength="5.75" lengthAdjust="spacingAndGlyphs" font-size="10.4">0</tspan></text>
<rect class="b" x="789.74" y="403.85" width="26.55" height="16.9"/>
<text class="v" font-size="9"><tspan class="n" x="795.14" y="415.99" textLength="5.75" lengthAdjust="spacingAndGlyphs" font-size="10.4">9</tspan><tspan class="p" x="801.07" y="415.99" textLength="2.88" lengthAdjust="spacingAndGlyphs" font-size="10.4">.</tspan><tspan class="n" x="806.64" y="415.99" textLength="5.75" lengthAdjust="spacingAndGlyphs" font-size="10.4">8</tspan></text>
<rect class="b" x="206.75" y="429.35" width="32.4" height="16.9"/>
<text class="v" font-size="9"><tspan class="n" x="212.2" y="441.49" textLength="11.5" lengthAdjust="spacingAndGlyphs" font-size="10.4">28</tspan><tspan class="p" x="223.88" y="441.49" textLength="2.88" lengthAdjust="spacingAndGlyphs" font-size="10.4">.</tspan><tspan class="n" x="229.45" y="441.49" textLength="5.75" lengthAdjust="spacingAndGlyphs" font-size="10.4">8</tspan></text>
<rect class="b" x="426.42" y="429.35" width="32.4" height="16.9"/>
<text class="v" font-size="9"><tspan class="n" x="431.87" y="441.49" textLength="11.5" lengthAdjust="spacingAndGlyphs" font-size="10.4">32</tspan><tspan class="p" x="443.54" y="441.49" textLength="2.88" lengthAdjust="spacingAndGlyphs" font-size="10.4">.</tspan><tspan class="n" x="449.12" y="441.49" textLength="5.75" lengthAdjust="spacingAndGlyphs" font-size="10.4">3</tspan></text>
<rect class="b" x="614.46" y="429.35" width="32.4" height="16.9"/>
<text class="v" font-size="9"><tspan class="n" x="619.91" y="441.49" textLength="11.5" lengthAdjust="spacingAndGlyphs" font-size="10.4">20</tspan><tspan class="p" x="631.59" y="441.49" textLength="2.88" lengthAdjust="spacingAndGlyphs" font-size="10.4">.</tspan><tspan class="n" x="637.16" y="441.49" textLength="5.75" lengthAdjust="spacingAndGlyphs" font-size="10.4">0</tspan></text>
<rect class="b" x="723.04" y="429.35" width="26.55" height="16.9"/>
<text class="v" font-size="9"><tspan class="n" x="728.44" y="441.49" textLength="5.75" lengthAdjust="spacingAndGlyphs" font-size="10.4">9</tspan><tspan class="p" x="734.36" y="441.49" textLength="2.88" lengthAdjust="spacingAndGlyphs" font-size="10.4">.</tspan><tspan class="n" x="739.94" y="441.49" textLength="5.75" lengthAdjust="spacingAndGlyphs" font-size="10.4">4</tspan></text>
<rect class="b" x="790.84" y="429.35" width="26.55" height="16.9"/>
<text class="v" font-size="9"><tspan class="n" x="796.24" y="441.49" textLength="5.75" lengthAdjust="spacingAndGlyphs" font-size="10.4">9</tspan><tspan class="p" x="802.16" y="441.49" textLength="2.88" lengthAdjust="spacingAndGlyphs" font-size="10.4">.</tspan><tspan class="n" x="807.74" y="441.49" textLength="5.75" lengthAdjust="spacingAndGlyphs" font-size="10.4">5</tspan></text>
<rect class="b" x="206.66" y="454.85" width="32.4" height="16.9"/>
<text class="v" font-size="9"><tspan class="n" x="212.11" y="466.99" textLength="11.5" lengthAdjust="spacingAndGlyphs" font-size="10.4">28</tspan><tspan class="p" x="223.78" y="466.99" textLength="2.88" lengthAdjust="spacingAndGlyphs" font-size="10.4">.</tspan><tspan class="n" x="229.36" y="466.99" textLength="5.75" lengthAdjust="spacingAndGlyphs" font-size="10.4">8</tspan></text>
<rect class="b" x="424.95" y="454.85" width="32.4" height="16.9"/>
<text class="v" font-size="9"><tspan class="n" x="430.4" y="466.99" textLength="11.5" lengthAdjust="spacingAndGlyphs" font-size="10.4">32</tspan><tspan class="p" x="442.07" y="466.99" textLength="2.88" lengthAdjust="spacingAndGlyphs" font-size="10.4">.</tspan><tspan class="n" x="447.65" y="466.99" textLength="5.75" lengthAdjust="spacingAndGlyphs" font-size="10.4">0</tspan></text>
<rect class="b" x="613.4" y="454.85" width="32.4" height="16.9"/>
<text class="v" font-size="9"><tspan class="n" x="618.85" y="466.99" textLength="11.5" lengthAdjust="spacingAndGlyphs" font-size="10.4">20</tspan><tspan class="p" x="630.53" y="466.99" textLength="2.88" lengthAdjust="spacingAndGlyphs" font-size="10.4">.</tspan><tspan class="n" x="636.1" y="466.99" textLength="5.75" lengthAdjust="spacingAndGlyphs" font-size="10.4">5</tspan></text>
<rect class="b" x="723.33" y="454.85" width="26.55" height="16.9"/>
<text class="v" font-size="9"><tspan class="n" x="728.73" y="466.99" textLength="5.75" lengthAdjust="spacingAndGlyphs" font-size="10.4">9</tspan><tspan class="p" x="734.65" y="466.99" textLength="2.88" lengthAdjust="spacingAndGlyphs" font-size="10.4">.</tspan><tspan class="n" x="740.23" y="466.99" textLength="5.75" lengthAdjust="spacingAndGlyphs" font-size="10.4">3</tspan></text>
<rect class="b" x="790.82" y="454.85" width="26.55" height="16.9"/>
<text class="v" font-size="9"><tspan class="n" x="796.22" y="466.99" textLength="5.75" lengthAdjust="spacingAndGlyphs" font-size="10.4">9</tspan><tspan class="p" x="802.14" y="466.99" textLength="2.88" lengthAdjust="spacingAndGlyphs" font-size="10.4">.</tspan><tspan class="n" x="807.72" y="466.99" textLength="5.75" lengthAdjust="spacingAndGlyphs" font-size="10.4">5</tspan></text>
<path d="M119 93.4V475.6H838.6" fill="none" stroke="#333" stroke-width="1.4"/>
<line x1="119" y1="93.4" x2="119" y2="475.6" stroke="#0a1430" stroke-width="1.6"/>
<path d="M190.95 475.6V472.4M262.9 475.6V472.4M334.85 475.6V472.4M406.8 475.6V472.4M478.75 475.6V472.4M550.7 475.6V472.4M622.65 475.6V472.4M694.6 475.6V472.4M766.55 475.6V472.4M838.5 475.6V472.4" fill="none" stroke="#333" stroke-width="1"/>
<text font-size="10.3"><tspan class="n" x="116" y="493.94" textLength="7.2" lengthAdjust="spacingAndGlyphs" font-size="12.57">0</tspan></text>
<text font-size="10.3"><tspan class="n" x="184.35" y="493.94" textLength="14.4" lengthAdjust="spacingAndGlyphs" font-size="12.57">10</tspan></text>
<text font-size="10.3"><tspan class="n" x="256.3" y="493.94" textLength="14.4" lengthAdjust="spacingAndGlyphs" font-size="12.57">20</tspan></text>
<text font-size="10.3"><tspan class="n" x="328.25" y="493.94" textLength="14.4" lengthAdjust="spacingAndGlyphs" font-size="12.57">30</tspan></text>
<text font-size="10.3"><tspan class="n" x="400.2" y="493.94" textLength="14.4" lengthAdjust="spacingAndGlyphs" font-size="12.57">40</tspan></text>
<text font-size="10.3"><tspan class="n" x="472.15" y="493.94" textLength="14.4" lengthAdjust="spacingAndGlyphs" font-size="12.57">50</tspan></text>
<text font-size="10.3"><tspan class="n" x="544.1" y="493.94" textLength="14.4" lengthAdjust="spacingAndGlyphs" font-size="12.57">60</tspan></text>
<text font-size="10.3"><tspan class="n" x="616.05" y="493.94" textLength="14.4" lengthAdjust="spacingAndGlyphs" font-size="12.57">70</tspan></text>
<text font-size="10.3"><tspan class="n" x="688" y="493.94" textLength="14.4" lengthAdjust="spacingAndGlyphs" font-size="12.57">80</tspan></text>
<text font-size="10.3"><tspan class="n" x="759.95" y="493.94" textLength="14.4" lengthAdjust="spacingAndGlyphs" font-size="12.57">90</tspan></text>
<text font-size="10.3"><tspan class="n" x="829" y="493.94" textLength="21.6" lengthAdjust="spacingAndGlyphs" font-size="12.57">100</tspan><tspan class="p" x="850.43" y="493.94" textLength="12" lengthAdjust="spacingAndGlyphs" font-size="12.57">%</tspan></text>
<text font-size="11.72"><tspan x="132.3" y="72.89" textLength="60" lengthAdjust="spacingAndGlyphs">単独世帯</tspan></text>
<line class="l" x1="165.6" y1="81" x2="165.6" y2="96.4"/>
<text font-size="11.72"><tspan x="216.1" y="72.89" textLength="105" lengthAdjust="spacingAndGlyphs">夫婦のみの世帯</tspan></text>
<line class="l" x1="279.3" y1="81" x2="279.3" y2="96.4"/>
<text font-size="11.72"><tspan x="337.3" y="72.89" textLength="165" lengthAdjust="spacingAndGlyphs">親と未婚の子のみの世帯</tspan></text>
<line class="l" x1="384.4" y1="81" x2="384.4" y2="96.4"/>
<text font-size="11.72"><tspan x="557.9" y="72.89" textLength="75" lengthAdjust="spacingAndGlyphs">三世代世帯</tspan></text>
<line class="l" x1="585.1" y1="81" x2="585.1" y2="96.4"/>
<text font-size="11.72"><tspan x="747.6" y="72.89" textLength="90" lengthAdjust="spacingAndGlyphs">その他の世帯</tspan></text>
<line class="l" x1="792.5" y1="81" x2="792.5" y2="96.4"/>
<text font-size="10.4"><tspan class="n" x="6.3" y="110.05" textLength="29" lengthAdjust="spacingAndGlyphs" font-size="12.6">1986</tspan><tspan class="p" x="37.43" y="109.17" textLength="3.86" lengthAdjust="spacingAndGlyphs" font-size="11.59">(</tspan><tspan x="42.55" y="109.6" textLength="29" lengthAdjust="spacingAndGlyphs">昭和</tspan><tspan class="n" x="71.55" y="110.05" textLength="14.5" lengthAdjust="spacingAndGlyphs" font-size="12.6">61</tspan><tspan class="p" x="86.15" y="109.17" textLength="3.86" lengthAdjust="spacingAndGlyphs" font-size="11.59">)</tspan><tspan x="93.3" y="109.6" textLength="14.5" lengthAdjust="spacingAndGlyphs">年</tspan></text>
<text font-size="10.4"><tspan class="p" x="14.88" y="133.53" textLength="2.61" lengthAdjust="spacingAndGlyphs" font-size="12.6">'</tspan><tspan class="n" x="21.55" y="135.55" textLength="14.5" lengthAdjust="spacingAndGlyphs" font-size="12.6">89</tspan><tspan class="p" x="38.18" y="134.67" textLength="3.86" lengthAdjust="spacingAndGlyphs" font-size="11.59">(</tspan><tspan x="43.3" y="135.1" textLength="43.5" lengthAdjust="spacingAndGlyphs">平成元</tspan><tspan class="p" x="86.9" y="134.67" textLength="3.86" lengthAdjust="spacingAndGlyphs" font-size="11.59">)</tspan></text>
<text font-size="10.4"><tspan class="p" x="14.88" y="159.03" textLength="2.61" lengthAdjust="spacingAndGlyphs" font-size="12.6">'</tspan><tspan class="n" x="21.55" y="161.05" textLength="14.5" lengthAdjust="spacingAndGlyphs" font-size="12.6">92</tspan><tspan class="p" x="38.18" y="160.17" textLength="3.86" lengthAdjust="spacingAndGlyphs" font-size="11.59">(</tspan>　　<tspan x="73.03" y="161.05" textLength="10.73" lengthAdjust="spacingAndGlyphs" font-size="11.13">４</tspan><tspan class="p" x="86.9" y="160.17" textLength="3.86" lengthAdjust="spacingAndGlyphs" font-size="11.59">)</tspan></text>
<text font-size="10.4"><tspan class="p" x="14.88" y="184.53" textLength="2.61" lengthAdjust="spacingAndGlyphs" font-size="12.6">'</tspan><tspan class="n" x="21.55" y="186.55" textLength="14.5" lengthAdjust="spacingAndGlyphs" font-size="12.6">95</tspan><tspan class="p" x="38.18" y="185.67" textLength="3.86" lengthAdjust="spacingAndGlyphs" font-size="11.59">(</tspan>　　<tspan x="73.03" y="186.55" textLength="10.73" lengthAdjust="spacingAndGlyphs" font-size="11.13">７</tspan><tspan class="p" x="86.9" y="185.67" textLength="3.86" lengthAdjust="spacingAndGlyphs" font-size="11.59">)</tspan></text>
<text font-size="10.4"><tspan class="p" x="14.88" y="210.03" textLength="2.61" lengthAdjust="spacingAndGlyphs" font-size="12.6">'</tspan><tspan class="n" x="21.55" y="212.05" textLength="14.5" lengthAdjust="spacingAndGlyphs" font-size="12.6">98</tspan><tspan class="p" x="38.18" y="211.17" textLength="3.86" lengthAdjust="spacingAndGlyphs" font-size="11.59">(</tspan>　　<tspan class="n" x="72.3" y="212.05" textLength="14.5" lengthAdjust="spacingAndGlyphs" font-size="12.6">10</tspan><tspan class="p" x="86.9" y="211.17" textLength="3.86" lengthAdjust="spacingAndGlyphs" font-size="11.59">)</tspan></text>
<text font-size="10.4"><tspan class="n" x="6.3" y="237.55" textLength="29" lengthAdjust="spacingAndGlyphs" font-size="12.6">2001</tspan><tspan class="p" x="37.43" y="236.67" textLength="3.86" lengthAdjust="spacingAndGlyphs" font-size="11.59">(</tspan>　　<tspan class="n" x="71.55" y="237.55" textLength="14.5" lengthAdjust="spacingAndGlyphs" font-size="12.6">13</tspan><tspan class="p" x="86.15" y="236.67" textLength="3.86" lengthAdjust="spacingAndGlyphs" font-size="11.59">)</tspan></text>
<text font-size="10.4"><tspan class="p" x="14.88" y="261.03" textLength="2.61" lengthAdjust="spacingAndGlyphs" font-size="12.6">'</tspan><tspan class="n" x="21.55" y="263.05" textLength="14.5" lengthAdjust="spacingAndGlyphs" font-size="12.6">04</tspan><tspan class="p" x="38.18" y="262.16" textLength="3.86" lengthAdjust="spacingAndGlyphs" font-size="11.59">(</tspan>　　<tspan class="n" x="72.3" y="263.05" textLength="14.5" lengthAdjust="spacingAndGlyphs" font-size="12.6">16</tspan><tspan class="p" x="86.9" y="262.16" textLength="3.86" lengthAdjust="spacingAndGlyphs" font-size="11.59">)</tspan></text>
<text font-size="10.4"><tspan class="p" x="14.88" y="286.53" textLength="2.61" lengthAdjust="spacingAndGlyphs" font-size="12.6">'</tspan><tspan class="n" x="21.55" y="288.55" textLength="14.5" lengthAdjust="spacingAndGlyphs" font-size="12.6">07</tspan><tspan class="p" x="38.18" y="287.66" textLength="3.86" lengthAdjust="spacingAndGlyphs" font-size="11.59">(</tspan>　　<tspan class="n" x="72.3" y="288.55" textLength="14.5" lengthAdjust="spacingAndGlyphs" font-size="12.6">19</tspan><tspan class="p" x="86.9" y="287.66" textLength="3.86" lengthAdjust="spacingAndGlyphs" font-size="11.59">)</tspan></text>
<text font-size="10.4"><tspan class="p" x="14.88" y="312.03" textLength="2.61" lengthAdjust="spacingAndGlyphs" font-size="12.6">'</tspan><tspan class="n" x="21.55" y="314.05" textLength="14.5" lengthAdjust="spacingAndGlyphs" font-size="12.6">10</tspan><tspan class="p" x="38.18" y="313.16" textLength="3.86" lengthAdjust="spacingAndGlyphs" font-size="11.59">(</tspan>　　<tspan class="n" x="72.3" y="314.05" textLength="14.5" lengthAdjust="spacingAndGlyphs" font-size="12.6">22</tspan><tspan class="p" x="86.9" y="313.16" textLength="3.86" lengthAdjust="spacingAndGlyphs" font-size="11.59">)</tspan></text>
<text font-size="10.4"><tspan class="p" x="14.88" y="337.53" textLength="2.61" lengthAdjust="spacingAndGlyphs" font-size="12.6">'</tspan><tspan class="n" x="21.55" y="339.55" textLength="14.5" lengthAdjust="spacingAndGlyphs" font-size="12.6">13</tspan><tspan class="p" x="38.18" y="338.66" textLength="3.86" lengthAdjust="spacingAndGlyphs" font-size="11.59">(</tspan>　　<tspan class="n" x="72.3" y="339.55" textLength="14.5" lengthAdjust="spacingAndGlyphs" font-size="12.6">25</tspan><tspan class="p" x="86.9" y="338.66" textLength="3.86" lengthAdjust="spacingAndGlyphs" font-size="11.59">)</tspan></text>
<text font-size="10.4"><tspan class="p" x="14.88" y="363.03" textLength="2.61" lengthAdjust="spacingAndGlyphs" font-size="12.6">'</tspan><tspan class="n" x="21.55" y="365.05" textLength="14.5" lengthAdjust="spacingAndGlyphs" font-size="12.6">16</tspan><tspan class="p" x="38.18" y="364.16" textLength="3.86" lengthAdjust="spacingAndGlyphs" font-size="11.59">(</tspan>　　<tspan class="n" x="72.3" y="365.05" textLength="14.5" lengthAdjust="spacingAndGlyphs" font-size="12.6">28</tspan><tspan class="p" x="86.9" y="364.16" textLength="3.86" lengthAdjust="spacingAndGlyphs" font-size="11.59">)</tspan></text>
<text font-size="10.4"><tspan class="p" x="14.88" y="388.53" textLength="2.61" lengthAdjust="spacingAndGlyphs" font-size="12.6">'</tspan><tspan class="n" x="21.55" y="390.55" textLength="14.5" lengthAdjust="spacingAndGlyphs" font-size="12.6">17</tspan><tspan class="p" x="38.18" y="389.66" textLength="3.86" lengthAdjust="spacingAndGlyphs" font-size="11.59">(</tspan>　　<tspan class="n" x="72.3" y="390.55" textLength="14.5" lengthAdjust="spacingAndGlyphs" font-size="12.6">29</tspan><tspan class="p" x="86.9" y="389.66" textLength="3.86" lengthAdjust="spacingAndGlyphs" font-size="11.59">)</tspan></text>
<text font-size="10.4"><tspan class="p" x="14.88" y="414.03" textLength="2.61" lengthAdjust="spacingAndGlyphs" font-size="12.6">'</tspan><tspan class="n" x="21.55" y="416.05" textLength="14.5" lengthAdjust="spacingAndGlyphs" font-size="12.6">18</tspan><tspan class="p" x="38.18" y="415.16" textLength="3.86" lengthAdjust="spacingAndGlyphs" font-size="11.59">(</tspan>　　<tspan class="n" x="72.3" y="416.05" textLength="14.5" lengthAdjust="spacingAndGlyphs" font-size="12.6">30</tspan><tspan class="p" x="86.9" y="415.16" textLength="3.86" lengthAdjust="spacingAndGlyphs" font-size="11.59">)</tspan></text>
<text font-size="10.4"><tspan class="p" x="14.88" y="439.53" textLength="2.61" lengthAdjust="spacingAndGlyphs" font-size="12.6">'</tspan><tspan class="n" x="21.55" y="441.55" textLength="14.5" lengthAdjust="spacingAndGlyphs" font-size="12.6">19</tspan><tspan class="p" x="38.18" y="440.66" textLength="3.86" lengthAdjust="spacingAndGlyphs" font-size="11.59">(</tspan><tspan x="43.3" y="441.1" textLength="43.5" lengthAdjust="spacingAndGlyphs">令和元</tspan><tspan class="p" x="86.9" y="440.66" textLength="3.86" lengthAdjust="spacingAndGlyphs" font-size="11.59">)</tspan></text>
<text font-size="10.4"><tspan class="p" x="14.88" y="465.03" textLength="2.61" lengthAdjust="spacingAndGlyphs" font-size="12.6">'</tspan><tspan class="n" x="21.55" y="467.05" textLength="14.5" lengthAdjust="spacingAndGlyphs" font-size="12.6">21</tspan><tspan class="p" x="38.18" y="466.16" textLength="3.86" lengthAdjust="spacingAndGlyphs" font-size="11.59">(</tspan>　　<tspan x="73.03" y="467.05" textLength="10.73" lengthAdjust="spacingAndGlyphs" font-size="11.13">３</tspan><tspan class="p" x="86.9" y="466.16" textLength="3.86" lengthAdjust="spacingAndGlyphs" font-size="11.59">)</tspan></text>
<text font-size="9.4"><tspan x="105.8" y="506.82" textLength="26" lengthAdjust="spacingAndGlyphs">注：</tspan><tspan class="n" x="131.8" y="507.47" textLength="6.5" lengthAdjust="spacingAndGlyphs" font-size="12.1">1</tspan><tspan class="p" x="138.27" y="506.63" textLength="3.71" lengthAdjust="spacingAndGlyphs" font-size="11.13">)</tspan> <tspan class="n" x="151.3" y="507.47" textLength="26" lengthAdjust="spacingAndGlyphs" font-size="12.1">1995</tspan><tspan class="p" x="179.09" y="506.63" textLength="3.71" lengthAdjust="spacingAndGlyphs" font-size="11.13">(</tspan><tspan x="183.8" y="506.82" textLength="26" lengthAdjust="spacingAndGlyphs">平成</tspan><tspan x="210.45" y="507.47" textLength="9.62" lengthAdjust="spacingAndGlyphs" font-size="10.06">７</tspan><tspan class="p" x="222.77" y="506.63" textLength="3.71" lengthAdjust="spacingAndGlyphs" font-size="11.13">)</tspan><tspan x="229.3" y="506.82" textLength="78" lengthAdjust="spacingAndGlyphs">年の数値は、</tspan><tspan x="307.3" y="506.82" textLength="169" lengthAdjust="spacingAndGlyphs">兵庫県を除いたものである。</tspan></text>
<text font-size="9.4"><tspan class="n" x="131.2" y="522.17" textLength="6.5" lengthAdjust="spacingAndGlyphs" font-size="12.1">2</tspan><tspan class="p" x="137.67" y="521.33" textLength="3.71" lengthAdjust="spacingAndGlyphs" font-size="11.13">)</tspan> <tspan class="n" x="150.7" y="522.17" textLength="26" lengthAdjust="spacingAndGlyphs" font-size="12.1">2016</tspan><tspan class="p" x="178.49" y="521.33" textLength="3.71" lengthAdjust="spacingAndGlyphs" font-size="11.13">(</tspan><tspan x="183.2" y="521.52" textLength="26" lengthAdjust="spacingAndGlyphs">平成</tspan><tspan class="n" x="209.2" y="522.17" textLength="13" lengthAdjust="spacingAndGlyphs" font-size="12.1">28</tspan><tspan class="p" x="222.17" y="521.33" textLength="3.71" lengthAdjust="spacingAndGlyphs" font-size="11.13">)</tspan><tspan x="228.7" y="521.52" textLength="78" lengthAdjust="spacingAndGlyphs">年の数値は、</tspan><tspan x="306.7" y="521.52" textLength="169" lengthAdjust="spacingAndGlyphs">熊本県を除いたものである。</tspan></text>
<text font-size="9.4"><tspan class="n" x="131.2" y="536.87" textLength="6.5" lengthAdjust="spacingAndGlyphs" font-size="12.1">3</tspan><tspan class="p" x="137.67" y="536.03" textLength="3.71" lengthAdjust="spacingAndGlyphs" font-size="11.13">)</tspan> <tspan class="n" x="150.7" y="536.87" textLength="26" lengthAdjust="spacingAndGlyphs" font-size="12.1">2020</tspan><tspan class="p" x="178.49" y="536.03" textLength="3.71" lengthAdjust="spacingAndGlyphs" font-size="11.13">(</tspan><tspan x="183.2" y="536.23" textLength="26" lengthAdjust="spacingAndGlyphs">令和</tspan><tspan x="209.85" y="536.87" textLength="9.62" lengthAdjust="spacingAndGlyphs" font-size="10.06">２</tspan><tspan class="p" x="222.17" y="536.03" textLength="3.71" lengthAdjust="spacingAndGlyphs" font-size="11.13">)</tspan><tspan x="228.7" y="536.23" textLength="39" lengthAdjust="spacingAndGlyphs">年は、</tspan><tspan x="267.7" y="536.23" textLength="143" lengthAdjust="spacingAndGlyphs">調査を実施していない。</tspan></text>
<text font-size="9.4"><tspan class="n" x="131.2" y="551.57" textLength="6.5" lengthAdjust="spacingAndGlyphs" font-size="12.1">4</tspan><tspan class="p" x="137.67" y="550.73" textLength="3.71" lengthAdjust="spacingAndGlyphs" font-size="11.13">)</tspan> <tspan x="150.7" y="550.92" textLength="208" lengthAdjust="spacingAndGlyphs">「親と未婚の子のみの世帯」とは、</tspan><tspan x="358.7" y="550.92" textLength="468" lengthAdjust="spacingAndGlyphs">「夫婦と未婚の子のみの世帯」及び「ひとり親と未婚の子のみの世帯」をいう。</tspan></text>
</svg>
</body></html>
